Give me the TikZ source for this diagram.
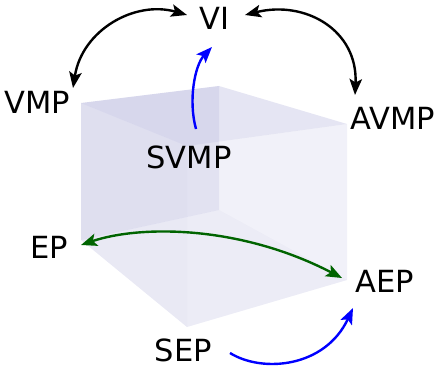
\documentclass[tikz,border=0pt]{standalone}
\usepackage{fontspec}
\setmainfont{DejaVu Sans}
\usetikzlibrary{arrows.meta,calc}
\definecolor{lav}{RGB}{140,140,200}
\definecolor{arrgreen}{RGB}{0,100,0}
\definecolor{arrblue}{RGB}{0,0,255}
\begin{document}
\begin{tikzpicture}[x=1pt,y=-1pt,
  lbl/.style={font=\fontsize{30.5}{36}\selectfont, inner sep=0pt},
  conn/.style={line width=2.4pt, -{Stealth[length=16pt,width=12.5pt,inset=3.5pt]}},
  dconn/.style={line width=2.4pt, {Stealth[length=16pt,width=12.5pt,inset=3.5pt]}-{Stealth[length=16pt,width=12.5pt,inset=3.5pt]}},
  face/.style={fill=lav, draw=none}]
\useasboundingbox (0,0) rectangle (435,366);
% cube vertices
\coordinate (cA) at (81,103);
\coordinate (cB) at (219,86);
\coordinate (cC) at (347,124);
\coordinate (cD) at (187,146);
\coordinate (cAb) at (81,240);
\coordinate (cBb) at (219,210);
\coordinate (cCb) at (347,280);
\coordinate (cDb) at (187,327);
% faces
\fill[face, fill opacity=0.20] (cA)--(cB)--(cBb)--(cAb)--cycle;
\fill[face, fill opacity=0.05] (cB)--(cC)--(cCb)--(cBb)--cycle;
\fill[face, fill opacity=0.10] (cAb)--(cBb)--(cCb)--(cDb)--cycle;
\fill[face, fill opacity=0.10] (cA)--(cD)--(cDb)--(cAb)--cycle;
\fill[face, fill opacity=0.07] (cD)--(cC)--(cCb)--(cDb)--cycle;
\fill[face, fill opacity=0.18] (cA)--(cB)--(cC)--(cD)--cycle;
% labels
\node[lbl] (vi) at (214.5,18.5) {VI};
\node[lbl] (vmp) at (37.5,102.5) {VMP};
\node[lbl] (avmp) at (392.5,118.5) {AVMP};
\node[lbl] (svmp) at (189,157) {SVMP};
\node[lbl] (ep) at (49,247.5) {EP};
\node[lbl] (aep) at (385,281) {AEP};
\node[lbl] (sep) at (183.5,350) {SEP};
% connectors
\draw[dconn, black] ($(vmp)+(35.5,-14.5)$) .. controls (82,30) and (135,0) .. ($(vi)+(-27.5,-3.5)$);
\draw[dconn, black] ($(vi)+(30.5,-3.5)$) .. controls (305,0) and (358,30) .. ($(avmp)+(-37.5,-23.5)$);
\draw[conn, arrblue] ($(svmp)+(7,-28)$) .. controls (188,100) and (195,65) .. ($(vi)+(-2.5,28.5)$);
\draw[dconn, arrgreen] ($(ep)+(32,-2.5)$) .. controls (140,225) and (240,225) .. ($(aep)+(-43,-3)$);
\draw[conn, arrblue] ($(sep)+(46.5,3)$) .. controls (262,373) and (325,368) .. ($(aep)+(-32,27)$);
\end{tikzpicture}
\end{document}
